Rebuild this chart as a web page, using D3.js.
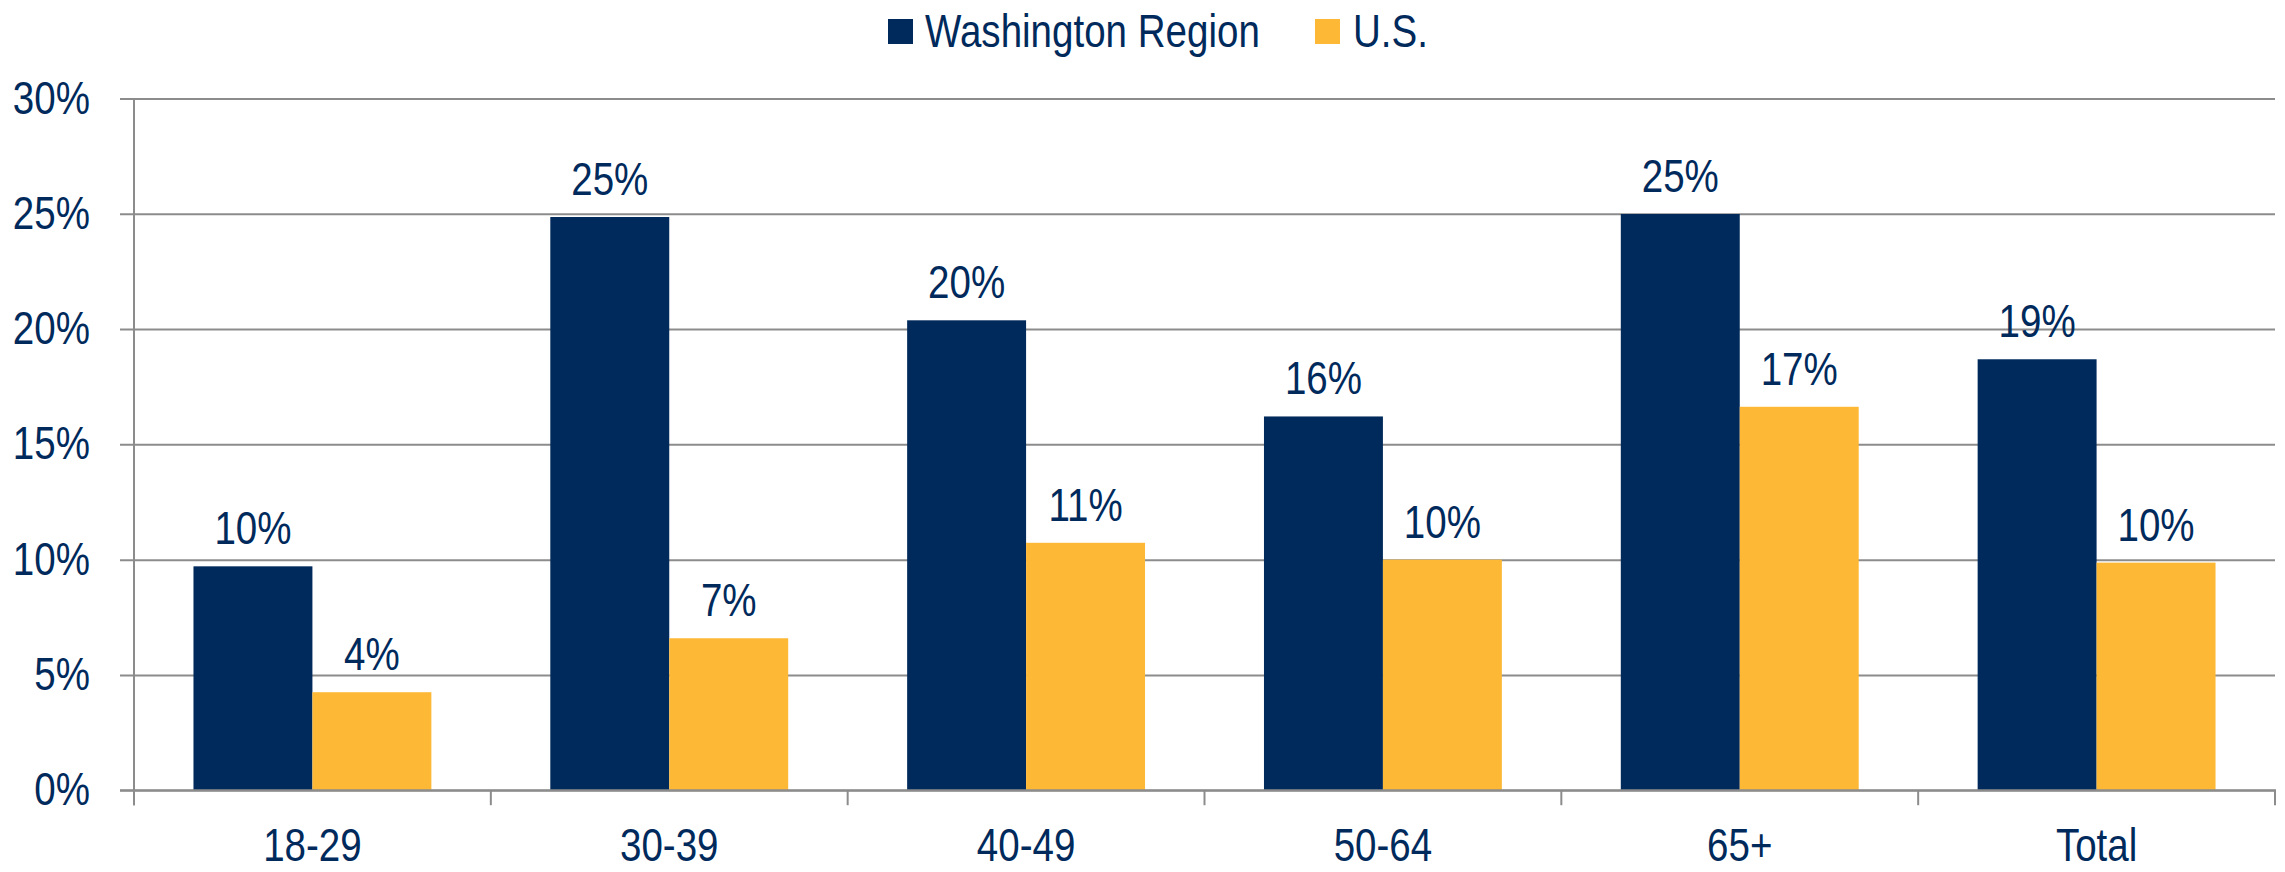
<!DOCTYPE html>
<html>
<head>
<meta charset="utf-8">
<script src="https://cdn.jsdelivr.net/npm/d3@7"></script>
<style>
  html, body { margin: 0; padding: 0; background: #fff; }
  svg { display: block; }
</style>
</head>
<body>
<svg id="chart" width="2285" height="872"></svg>
<script>
// ---- data ----
const categories = ["18-29", "30-39", "40-49", "50-64", "65+", "Total"];
const seriesNames = ["Washington Region", "U.S."];
const washingtonValues = [9.71, 24.86, 20.38, 16.21, 24.99, 18.69];
const usValues = [4.25, 6.59, 10.73, 10.0, 16.63, 9.87];
const yTickValues = [0, 5, 10, 15, 20, 25, 30];

(function () {
const colors = { "Washington Region": "#002A5C", "U.S.": "#FDB836" };
const textColor = "#002A5C";
const gridColor = "#8C8C8C";

function fontAvailable(name) {
  const c = document.createElement("canvas").getContext("2d");
  const s = "Washington Region 0123456789%";
  c.font = "48px monospace"; const w1 = c.measureText(s).width;
  c.font = "48px '" + name + "', monospace"; const w2 = c.measureText(s).width;
  return Math.abs(w1 - w2) > 0.5;
}
let fontFamily, stretch = 1;
if (fontAvailable("Liberation Sans Narrow")) fontFamily = "'Liberation Sans Narrow', sans-serif";
else if (fontAvailable("Arial Narrow")) fontFamily = "'Arial Narrow', sans-serif";
else { fontFamily = "'Liberation Sans', Arial, sans-serif"; stretch = 0.82; }
const fontSize = 47;

const svg = d3.select("#chart");
const plotL = 134, plotR = 2275, plotT = 98.5, plotB = 790.2, tickL = 120;

const x0 = d3.scaleBand().domain(categories).range([plotL, plotR]).paddingInner(1/3).paddingOuter(1/6);
const x1 = d3.scaleBand().domain(seriesNames).range([0, x0.bandwidth()]);
const y = d3.scaleLinear().domain([0, 30]).range([plotB, plotT]);

const rows = categories.map((c, i) => ({
  cat: c,
  vals: [
    { s: "Washington Region", v: washingtonValues[i] },
    { s: "U.S.", v: usValues[i] }
  ]
}));

function addText(g, xPos, yPos, txt, anchor) {
  const t = g.append("text")
    .attr("font-family", fontFamily)
    .attr("font-size", fontSize)
    .attr("fill", textColor)
    .attr("text-anchor", anchor)
    .text(txt);
  if (stretch !== 1) t.attr("transform", `translate(${xPos},${yPos}) scale(${stretch},1)`);
  else t.attr("x", xPos).attr("y", yPos);
  return t;
}

// gridlines
const yAxis = d3.axisRight(y).tickValues(yTickValues).tickSize(plotR - tickL).tickFormat("");
const gy = svg.append("g").attr("transform", `translate(${tickL},0)`).call(yAxis);
gy.select(".domain").remove();
gy.selectAll(".tick line").attr("stroke", gridColor).attr("stroke-width", 2);

// y labels
const yLab = svg.append("g");
yTickValues.forEach(v => addText(yLab, 90, y(v) + 15, v + "%", "end"));

// bars
const barG = svg.append("g");
rows.forEach(r => {
  barG.selectAll(null).data(r.vals).enter().append("rect")
    .attr("x", d => x0(r.cat) + x1(d.s))
    .attr("y", d => y(d.v))
    .attr("width", x1.bandwidth())
    .attr("height", d => y(0) - y(d.v))
    .attr("fill", d => colors[d.s]);
});

// value labels
const fmt = d3.format(".0%");
const valG = svg.append("g");
rows.forEach(r => {
  r.vals.forEach(d => {
    addText(valG, x0(r.cat) + x1(d.s) + x1.bandwidth() / 2, y(d.v) - 22, fmt(d.v / 100), "middle");
  });
});

// y axis vertical line and x axis baseline
svg.append("line").attr("x1", plotL).attr("x2", plotL).attr("y1", plotT).attr("y2", plotB + 15)
  .attr("stroke", gridColor).attr("stroke-width", 2);
svg.append("line").attr("x1", tickL).attr("x2", plotR + 1).attr("y1", plotB).attr("y2", plotB)
  .attr("stroke", gridColor).attr("stroke-width", 2);
const step = x0.step();
const boundaries = categories.map(c => x0(c) - step * x0.paddingInner() / 2).concat([plotR]);
boundaries.forEach(bx => {
  svg.append("line").attr("x1", bx).attr("x2", bx).attr("y1", plotB).attr("y2", plotB + 15)
    .attr("stroke", gridColor).attr("stroke-width", 2);
});

// x labels
const xLab = svg.append("g");
categories.forEach(c => addText(xLab, x0(c) + x0.bandwidth() / 2, 861, c, "middle"));

// legend
const legend = svg.append("g");
const legendPos = [{ sq: 888, tx: 925 }, { sq: 1315, tx: 1353 }];
seriesNames.forEach((s, i) => {
  legend.append("rect").attr("x", legendPos[i].sq).attr("y", 19).attr("width", 25).attr("height", 25)
    .attr("fill", colors[s]);
  addText(legend, legendPos[i].tx, 47, s, "start");
});
})();
</script>
</body>
</html>
